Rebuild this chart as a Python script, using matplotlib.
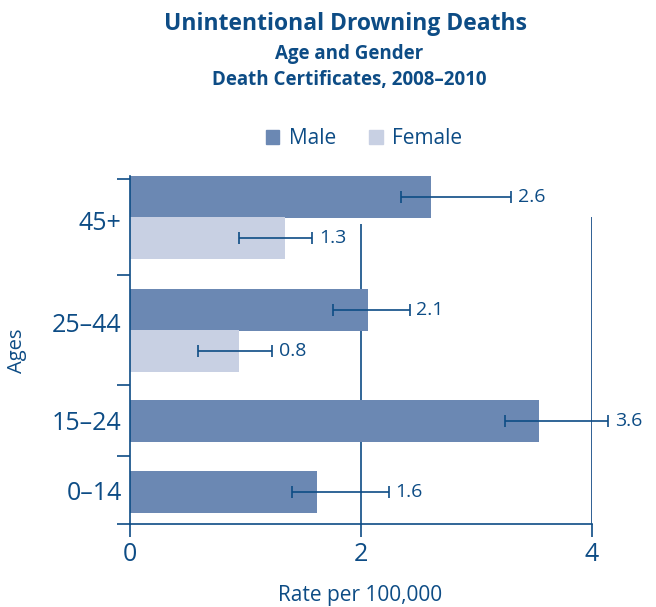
import matplotlib
matplotlib.use('Agg')
import matplotlib.pyplot as plt
from matplotlib.patches import Patch

plt.rcParams['font.family'] = ['Open Sans', 'DejaVu Sans']

# data
ages = ['0–14', '15–24', '25–44', '45+']
male_rate = [1.62, 3.54, 2.06, 2.61]
male_lo = [1.40, 3.25, 1.76, 2.35]
male_hi = [2.24, 4.14, 2.42, 3.30]
male_label = ['1.6', '3.6', '2.1', '2.6']

female_ages = ['25–44', '45+']
female_rate = [0.94, 1.34]
female_lo = [0.59, 0.94]
female_hi = [1.23, 1.58]
female_label = ['0.8', '1.3']

# layout (vertical positions in axis units = pixels from the x axis)
male_pos = {'0–14': 32, '15–24': 103, '25–44': 214, '45+': 327}
female_pos = {'25–44': 173, '45+': 286}
label_pos = {'0–14': 33, '15–24': 104, '25–44': 202, '45+': 304}
bounds = [0, 68, 139, 249, 345]
BAR_H = 42

DARK = '#0d4c85'
MALE_C = '#6b88b3'
FEMALE_C = '#c8d0e3'

fig = plt.figure(figsize=(6.56, 6.07), dpi=100)
ax = fig.add_axes([130 / 656, 83 / 607, 462 / 656, 348 / 607])

# vertical grid lines, starting below the top bar
ax.vlines(2, 0, 300, color=DARK, lw=1.2, zorder=1)
ax.vlines(4, 0, 307, color='#2f5f94', lw=1.4, zorder=1)

my = [male_pos[a] for a in ages]
fy = [female_pos[a] for a in female_ages]
ax.barh(my, male_rate, height=BAR_H, color=MALE_C, zorder=2)
ax.barh(fy, female_rate, height=BAR_H, color=FEMALE_C, zorder=2)

def add_err(ys, rate, lo, hi, labels):
    xerr = [[r - l for r, l in zip(rate, lo)], [h - r for r, h in zip(rate, hi)]]
    ax.errorbar(rate, ys, xerr=xerr, fmt='none', ecolor=DARK, elinewidth=1.2,
                capsize=4, capthick=1.2, zorder=3, clip_on=False)
    for y, h, t in zip(ys, hi, labels):
        ax.annotate(t, (h, y), xytext=(5, 0), textcoords='offset points',
                    va='center', ha='left', fontsize=14, color=DARK,
                    annotation_clip=False)

add_err(my, male_rate, male_lo, male_hi, male_label)
add_err(fy, female_rate, female_lo, female_hi, female_label)

ax.set_xlim(0, 4)
ax.set_ylim(0, 348)
ax.set_xticks([0, 2, 4])
ax.set_xticklabels(['0', '2', '4'])
ax.set_yticks([label_pos[a] for a in ages])
ax.set_yticklabels(ages)
ax.set_yticks(bounds, minor=True)
ax.tick_params(axis='x', length=9, width=1.2, color=DARK, labelcolor=DARK,
               labelsize=18, pad=4)
ax.tick_params(axis='y', which='major', length=0, labelcolor=DARK,
               labelsize=18, pad=6)
ax.tick_params(axis='y', which='minor', length=9.5, width=1.2, color=DARK)

for s in ['top', 'right']:
    ax.spines[s].set_visible(False)
for s in ['left', 'bottom']:
    ax.spines[s].set_color(DARK)
    ax.spines[s].set_linewidth(1.2)

fig.text(0.527, 1 - 24 / 607, 'Unintentional Drowning Deaths', ha='center',
         va='center', fontsize=16.5, fontweight='bold', color=DARK)
fig.text(0.532, 1 - 54 / 607, 'Age and Gender', ha='center', va='center',
         fontsize=13.5, fontweight='bold', color=DARK)
fig.text(0.532, 1 - 80 / 607, 'Death Certificates, 2008–2010', ha='center',
         va='center', fontsize=13.5, fontweight='bold', color=DARK)

fig.text(360 / 656, 1 - 595 / 607, 'Rate per 100,000', ha='center',
         va='center', fontsize=15, color=DARK)
fig.text(17 / 656, 1 - 351 / 607, 'Ages', ha='center', va='center',
         rotation=90, fontsize=14.5, color=DARK)

handles = [Patch(color=MALE_C, label='Male'), Patch(color=FEMALE_C, label='Female')]
leg = fig.legend(handles=handles, loc='center', bbox_to_anchor=(364 / 656, 1 - 139 / 607),
                 ncol=2, frameon=False, fontsize=15, handlelength=0.65,
                 handleheight=0.65, handletextpad=0.45, columnspacing=1.6)
for t in leg.get_texts():
    t.set_color(DARK)

fig.savefig('out.png', dpi=100)
